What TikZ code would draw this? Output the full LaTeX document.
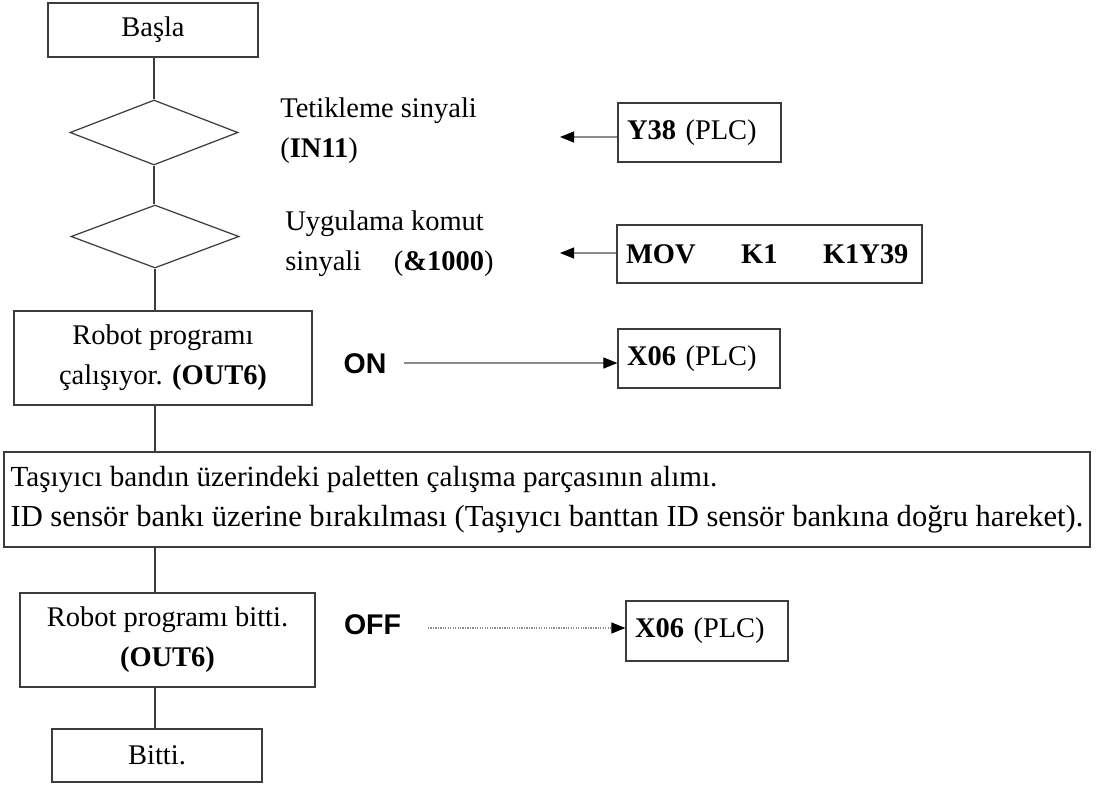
\documentclass[tikz,border=0pt]{standalone}
\usepackage{fontspec}
\setmainfont{Liberation Serif}
\newfontfamily\switchfont{Liberation Sans}
\definecolor{FrameGray}{HTML}{3C3C3C}
\definecolor{WireGray}{HTML}{8C8C8C}
\usetikzlibrary{arrows.meta,shapes.geometric}
\tikzset{
  stepBox/.style={draw=FrameGray, line width=0.7pt, align=center, inner sep=0pt, font=\fontsize{16.2pt}{22.8pt}\selectfont},
  decisionNode/.style={diamond, draw=FrameGray, line width=0.7pt, inner sep=0pt, minimum width=3.36cm},
  plcBox/.style={draw=FrameGray, line width=0.7pt, align=left, inner xsep=0.18cm, inner ysep=0pt, font=\fontsize{16.2pt}{22.8pt}\selectfont},
  labelNode/.style={align=left, inner sep=0pt, anchor=west, font=\fontsize{16.2pt}{22.8pt}\selectfont},
  switchNode/.style={inner sep=0pt, font=\switchfont\bfseries\fontsize{16.2pt}{20pt}\selectfont},
  flowLine/.style={draw=FrameGray, line width=0.7pt},
  signalEdge/.style={-{Triangle[length=0.28cm, width=0.22cm, color=black]}, draw=WireGray, line width=0.6pt},
  offEdge/.style={signalEdge, dash pattern=on 0.7pt off 0.7pt}
}

\begin{document}
\begin{tikzpicture}[x=1cm,y=1cm]
  \useasboundingbox (0,0) rectangle (21.92,-15.72);

  % main flow
  \node[stepBox, minimum width=4.2cm, minimum height=1.08cm] (start) at (3.06,-0.60) {Başla};
  \node[decisionNode, minimum height=1.3cm] (trig) at (3.08,-2.65) {};
  \node[decisionNode, minimum height=1.26cm] (cmd) at (3.10,-4.73) {};
  \node[stepBox, minimum width=5.96cm, minimum height=1.88cm] (run) at (3.26,-7.16)
    {Robot programı\\çalışıyor. \textbf{(OUT6)}};
  \node[stepBox, align=left, minimum width=21.72cm, minimum height=1.9cm,
        font=\fontsize{16.6pt}{22.8pt}\selectfont] (task) at (10.94,-9.99)
    {Taşıyıcı bandın üzerindeki paletten çalışma parçasının alımı.\\
     \fontsize{17.4pt}{22.8pt}\selectfont
     ID sensör bankı üzerine bırakılması (Taşıyıcı banttan ID sensör bankına doğru hareket).};
  \node[stepBox, minimum width=5.9cm, minimum height=1.88cm] (done) at (3.35,-12.80)
    {Robot programı bitti.\\\textbf{(OUT6)}};
  \node[stepBox, minimum width=4.2cm, minimum height=1.06cm] (stop) at (3.14,-15.11) {Bitti.};

  \draw[flowLine] (start.south -| trig.north) -- (trig.north);
  \draw[flowLine] (trig.south) -- (trig.south |- cmd.north);
  \draw[flowLine] (cmd.south) -- (cmd.south |- run.north);
  \draw[flowLine] (run.south -| cmd.south) -- (cmd.south |- task.north);
  \draw[flowLine] (task.south -| cmd.south) -- (cmd.south |- done.north);
  \draw[flowLine] (done.south -| cmd.south) -- (cmd.south |- stop.north);

  % signal labels
  \node[labelNode] (trigText) at (5.60,-2.62) {Tetikleme sinyali\\(\textbf{IN11})};
  \node[labelNode] (cmdText) at (5.70,-4.87) {Uygulama komut\\sinyali\hspace{1.15em}(\textbf{\&1000})};

  % PLC side
  \node[plcBox, text width=2.9cm, minimum height=1.18cm] (y38) at (13.99,-2.65) {\textbf{Y38} (PLC)};
  \node[plcBox, text width=5.74cm, minimum height=1.16cm] (mov) at (15.39,-5.08)
    {\mbox{\textbf{MOV}\hspace{1.6em}\textbf{K1}\hspace{1.6em}\textbf{K1Y39}}};
  \node[plcBox, text width=2.88cm, minimum height=1.18cm] (x06on) at (13.98,-7.17) {\textbf{X06} (PLC)};
  \node[plcBox, text width=2.88cm, minimum height=1.2cm] (x06off) at (14.14,-12.62) {\textbf{X06} (PLC)};

  \node[switchNode] (on) at (7.30,-7.28) {ON};
  \node[switchNode] (off) at (7.45,-12.50) {OFF};

  \coordinate (y38tip) at (11.20,-2.74);
  \coordinate (movtip) at (11.20,-5.06);
  \coordinate (onstart) at (8.08,-7.26);
  \coordinate (offstart) at (8.56,-12.56);

  \draw[signalEdge] (y38.west |- y38tip) -- (y38tip);
  \draw[signalEdge] (mov.west |- movtip) -- (movtip);
  \draw[signalEdge] (onstart) -- (x06on.west |- onstart);
  \draw[offEdge] (offstart) -- (x06off.west |- offstart);
\end{tikzpicture}
\end{document}
